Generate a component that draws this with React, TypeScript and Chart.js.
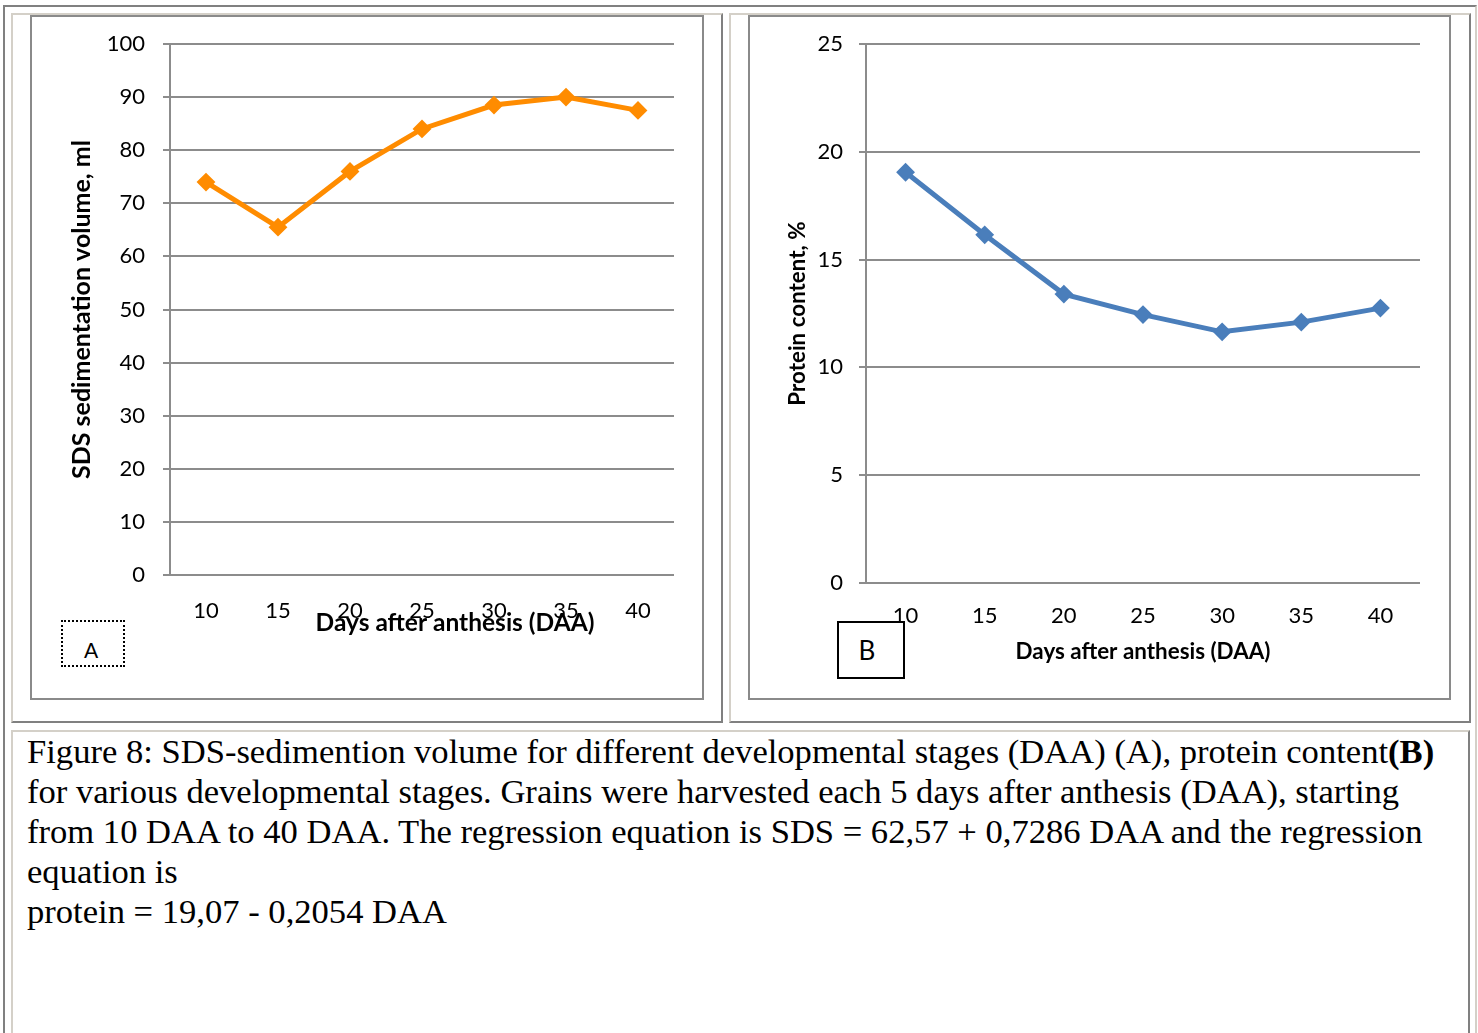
import React, { useEffect, useRef } from "react";
import { Chart, registerables } from "chart.js";

Chart.register(...registerables);

// ---- data ----
const daaLabels = ["10", "15", "20", "25", "30", "35", "40"];
const sdsVolume = [74, 65.5, 76, 84, 88.5, 90, 87.5];
const proteinContent = [19.05, 16.15, 13.4, 12.45, 11.65, 12.1, 12.75];
const sdsAxis = [0, 100, 10]; // min, max, step
const proteinAxis = [0, 25, 5];
const sdsYTitle = "SDS sedimentation volume, ml";
const proteinYTitle = "Protein content, %";
const xTitle = "Days after anthesis (DAA)";
const captionLines = [
  "Figure 8: SDS-sedimention volume for different developmental stages (DAA) (A), protein content",
  "for various developmental stages. Grains were harvested each 5 days after anthesis (DAA), starting",
  "from 10 DAA to 40 DAA. The regression equation is SDS = 62,57 + 0,7286 DAA and the regression",
  "equation is",
  "protein = 19,07 - 0,2054 DAA",
];

const FONT = "Lato, 'Open Sans', sans-serif";
const GRID = "#8c8c8c";

const offsetTitle = {
  id: "offsetTitle",
  afterDraw(chart: any, _a: any, opts: any) {
    if (!opts || !opts.text) return;
    const { ctx, chartArea } = chart;
    ctx.save();
    ctx.font = opts.font;
    ctx.fillStyle = opts.color;
    ctx.textAlign = "center";
    ctx.textBaseline = "middle";
    ctx.fillText(opts.text, (chartArea.left + chartArea.right) / 2 + opts.dx, chartArea.bottom + opts.dy);
    ctx.restore();
  },
};

type Cfg = {
  values: number[];
  color: string;
  axis: number[];
  yTitle: string;
  yTitleSize: number;
  xTitleSize: number;
  topPad: number;
  yWidth: number;
  xHeight: number;
  yLabelPad: number;
  yTitlePad: number;
  xLabelPad: number;
  xTitlePad: number;
  xTitleInScale: boolean;
  freeTitle?: { dx: number; dy: number };
};

function buildConfig(c: Cfg): any {
  return {
    type: "line",
    data: {
      labels: daaLabels,
      datasets: [
        {
          data: c.values,
          borderColor: c.color,
          backgroundColor: c.color,
          borderWidth: 5,
          pointStyle: "rectRot",
          pointRadius: 8,
          pointBorderWidth: 2,
          pointBackgroundColor: c.color,
          pointBorderColor: c.color,
          tension: 0,
          clip: false,
        },
      ],
    },
    options: {
      responsive: false,
      animation: false,
      layout: { autoPadding: false, padding: { left: 0, top: c.topPad, right: 28, bottom: 0 } },
      plugins: {
        legend: { display: false },
        tooltip: { enabled: false },
        offsetTitle: c.freeTitle
          ? { text: xTitle, font: `bold ${c.xTitleSize}px ${FONT}`, color: "#000", dx: c.freeTitle.dx, dy: c.freeTitle.dy }
          : {},
      },
      scales: {
        x: {
          type: "category",
          offset: true,
          grid: { display: false, drawTicks: false },
          border: { display: false },
          ticks: { color: "#000", font: { family: FONT, size: 22 }, padding: c.xLabelPad, maxRotation: 0 },
          title: {
            display: c.xTitleInScale,
            text: xTitle,
            color: "#000",
            font: { family: FONT, size: c.xTitleSize, weight: "bold" },
            padding: { top: 0, bottom: c.xTitlePad },
          },
          afterFit: (s: any) => {
            s.height = c.xHeight;
            s.paddingLeft = 0;
            s.paddingRight = 0;
          },
        },
        y: {
          min: c.axis[0],
          max: c.axis[1],
          ticks: { stepSize: c.axis[2], color: "#000", font: { family: FONT, size: 22 }, padding: c.yLabelPad },
          grid: { color: GRID, lineWidth: 2, drawTicks: true, tickLength: 7 },
          border: { display: true, color: GRID, width: 2 },
          title: {
            display: true,
            text: c.yTitle,
            color: "#000",
            font: { family: FONT, size: c.yTitleSize, weight: "bold" },
            padding: { top: c.yTitlePad, bottom: 0 },
          },
          afterFit: (s: any) => {
            s.width = c.yWidth;
            s.paddingTop = 0;
            s.paddingBottom = 0;
          },
        },
      },
    },
    plugins: [offsetTitle],
  };
}

function ChartCanvas({ cfg, width, height, style }: { cfg: Cfg; width: number; height: number; style: any }) {
  const ref = useRef<HTMLCanvasElement | null>(null);
  useEffect(() => {
    if (!ref.current) return;
    const chart = new Chart(ref.current, buildConfig(cfg));
    return () => chart.destroy();
  }, []);
  return <canvas ref={ref} width={width} height={height} style={{ position: "absolute", width, height, ...style }} />;
}

const abs = (l: number, t: number, w: number, h: number, extra: any = {}) => ({
  position: "absolute" as const,
  left: l,
  top: t,
  width: w,
  height: h,
  boxSizing: "border-box" as const,
  ...extra,
});

const LIGHT = "#d4d0c8";
const DARK = "#808080";

export default function App() {
  const cfgA: Cfg = {
    values: sdsVolume,
    color: "#ff8c00",
    axis: sdsAxis,
    yTitle: sdsYTitle,
    yTitleSize: 25,
    xTitleSize: 24.5,
    topPad: 27,
    yWidth: 138,
    xHeight: 122,
    yLabelPad: 18,
    yTitlePad: 35,
    xLabelPad: 22.5,
    xTitlePad: 0,
    xTitleInScale: false,
    freeTitle: { dx: 33, dy: 48 },
  };
  const cfgB: Cfg = {
    values: proteinContent,
    color: "#4a7ebb",
    axis: proteinAxis,
    yTitle: proteinYTitle,
    yTitleSize: 22.4,
    xTitleSize: 22.4,
    topPad: 27,
    yWidth: 116,
    xHeight: 114,
    yLabelPad: 16,
    yTitlePad: 34.5,
    xLabelPad: 19.5,
    xTitlePad: 32,
    xTitleInScale: true,
  };
  const cellBorder = {
    borderTop: `2px solid ${LIGHT}`,
    borderLeft: `2px solid ${LIGHT}`,
    borderRight: `2px solid ${DARK}`,
    borderBottom: `2px solid ${DARK}`,
  };
  return (
    <div style={abs(0, 0, 1478, 1033, { background: "#fff", overflow: "hidden" })}>
      <div
        style={abs(3, 5, 1474, 1100, {
          borderTop: `2px solid ${DARK}`,
          borderLeft: `2px solid ${DARK}`,
          borderRight: `2px solid ${LIGHT}`,
        })}
      />
      <div style={abs(11, 13, 712, 710, cellBorder)} />
      <div style={abs(729, 13, 742, 710, cellBorder)} />
      <div style={abs(11, 730, 1459, 400, cellBorder)} />
      <div style={abs(30, 15, 674, 685, { border: "2px solid #8a8a8a" })} />
      <div style={abs(748, 15, 703, 685, { border: "2px solid #8a8a8a" })} />
      <ChartCanvas cfg={cfgA} width={670} height={680} style={{ left: 32, top: 17 }} />
      <ChartCanvas cfg={cfgB} width={698} height={680} style={{ left: 750, top: 17 }} />
      <div
        style={abs(61, 620, 64, 47, {
          border: "2px dotted #000",
          background: "#fff",
          fontFamily: FONT,
          fontSize: 21,
          display: "flex",
          alignItems: "center",
          justifyContent: "center",
          paddingTop: 12,
          paddingRight: 4,
        })}
      >
        A
      </div>
      <div
        style={abs(837, 621, 68, 58, {
          border: "2px solid #000",
          background: "#fff",
          fontFamily: FONT,
          fontSize: 26,
          display: "flex",
          alignItems: "center",
          justifyContent: "center",
          paddingRight: 8,
        })}
      >
        B
      </div>
      <div
        style={abs(27, 731, 1445, 220, {
          fontFamily: "'Liberation Serif', 'Times New Roman', serif",
          fontSize: 34.6,
          lineHeight: "40px",
          whiteSpace: "nowrap",
          color: "#000",
        })}
      >
        {captionLines.map((l, i) => (
          <div key={i}>
            {l}
            {i === 0 ? <b>(B)</b> : null}
          </div>
        ))}
      </div>
    </div>
  );
}
